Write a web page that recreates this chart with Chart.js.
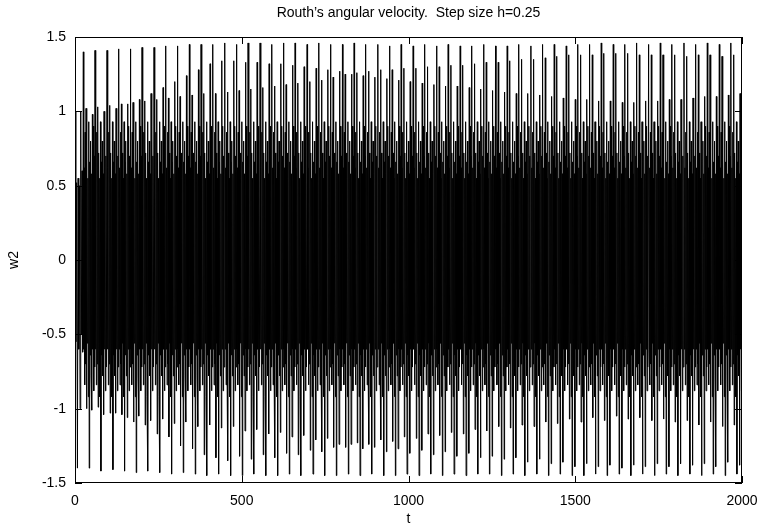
<!DOCTYPE html>
<html>
<head>
<meta charset="utf-8">
<script src="https://cdn.jsdelivr.net/npm/chart.js@4.4.1/dist/chart.umd.min.js"></script>
<style>
  html, body { margin: 0; padding: 0; background: #fff; }
  #chart { display: block; }
</style>
</head>
<body>
<canvas id="chart" width="759" height="529"></canvas>
<script>
// start of the run, before the first big upward spike
const leadT = [0, 2.4, 4.9, 7.3, 9.3, 11.3, 13.2, 15.2, 17.2, 19.1, 21.1, 23.0];
const leadW = [1.0, -0.55, 0.52, -1.40, 0.55, -0.6, 0.5, -1.0, 1.0, -0.5, 0.6, -0.62];

// time of every big upward spike (one per beat cycle)
const peakT = [25, 60, 96, 131, 166, 201, 237, 272, 307, 343, 378, 413, 449, 484, 519, 555,
    590, 625, 660, 696, 731, 766, 802, 837, 872, 908, 943, 978, 1014, 1049, 1084, 1119,
    1155, 1190, 1225, 1261, 1296, 1331, 1367, 1402, 1437, 1473, 1508, 1543, 1578, 1614,
    1649, 1684, 1720, 1755, 1790, 1826, 1861, 1896, 1932, 1967];

// time offsets of the samples inside one cycle
const subT = [0, 1.36, 2.72, 4.07, 5.43, 6.79, 8.15, 9.5, 10.86, 12.22, 13.58, 14.93, 16.29,
    17.65, 19.0, 20.37, 21.72, 23.08, 24.44, 25.8, 27.15, 28.51, 29.87, 31.23, 32.58, 33.94];

const topPeak = [1.40, 1.41, 1.41, 1.42, 1.42, 1.43, 1.43, 1.44, 1.44, 1.45, 1.45, 1.45, 1.46, 1.45, 1.46,
    1.46, 1.45, 1.46, 1.46, 1.45, 1.46, 1.45, 1.45, 1.46, 1.45, 1.45, 1.44, 1.45, 1.44, 1.45,
    1.44, 1.45, 1.44, 1.44, 1.45, 1.44, 1.44, 1.45, 1.44, 1.45, 1.45, 1.44, 1.45, 1.45, 1.46,
    1.45, 1.45, 1.46, 1.45, 1.46, 1.45, 1.46, 1.45, 1.46, 1.45, 1.46];
const bottomPeak = [-1.40, -1.42, -1.41, -1.42, -1.43, -1.42, -1.43, -1.44, -1.43, -1.44, -1.45, -1.44,
    -1.45, -1.45, -1.44, -1.45, -1.45, -1.44, -1.45, -1.44, -1.45, -1.45, -1.44, -1.45, -1.44,
    -1.45, -1.45, -1.44, -1.45, -1.44, -1.45, -1.44, -1.45, -1.44, -1.44, -1.45, -1.44, -1.45,
    -1.44, -1.45, -1.44, -1.45, -1.45, -1.44, -1.45, -1.44, -1.45, -1.44, -1.45, -1.44, -1.45,
    -1.44, -1.45, -1.44, -1.45, -1.44];
const preTop = [0.98, 1.00, 1.02, 1.05, 1.08, 1.12, 1.16, 1.20, 1.24, 1.28, 1.32, 1.34, 1.34, 1.33,
    1.33, 1.32, 1.32, 1.31, 1.30, 1.29, 1.28, 1.27, 1.25, 1.24, 1.23, 1.22, 1.21, 1.20, 1.19,
    1.18, 1.17, 1.17, 1.16, 1.15, 1.14, 1.13, 1.12, 1.12, 1.11, 1.10, 1.09, 1.08, 1.08, 1.07,
    1.07, 1.06, 1.06, 1.07, 1.07, 1.08, 1.08, 1.09, 1.10, 1.10, 1.11, 1.12];
const postTop = [1.02, 1.03, 1.04, 1.05, 1.06, 1.07, 1.08, 1.09, 1.10, 1.11, 1.12, 1.12, 1.13, 1.14,
    1.15, 1.16, 1.17, 1.18, 1.19, 1.20, 1.21, 1.23, 1.25, 1.26, 1.27, 1.28, 1.28, 1.29, 1.29,
    1.30, 1.30, 1.31, 1.31, 1.32, 1.33, 1.33, 1.34, 1.35, 1.35, 1.36, 1.37, 1.38, 1.38, 1.38,
    1.39, 1.39, 1.39, 1.38, 1.38, 1.38, 1.38, 1.37, 1.38, 1.38, 1.37, 1.38];
const preBottom = [-1.00, -0.99, -1.03, -1.04, -1.09, -1.11, -1.17, -1.19, -1.25, -1.27, -1.31, -1.33,
    -1.35, -1.32, -1.34, -1.31, -1.33, -1.30, -1.31, -1.28, -1.29, -1.26, -1.26, -1.23, -1.24,
    -1.21, -1.22, -1.19, -1.20, -1.17, -1.18, -1.16, -1.17, -1.14, -1.15, -1.12, -1.13, -1.11,
    -1.12, -1.09, -1.10, -1.07, -1.09, -1.06, -1.08, -1.05, -1.07, -1.06, -1.08, -1.07, -1.09,
    -1.08, -1.11, -1.09, -1.12, -1.11];
const postBottom = [-1.01, -1.04, -1.03, -1.06, -1.05, -1.08, -1.07, -1.10, -1.09, -1.12, -1.11, -1.13,
    -1.12, -1.15, -1.14, -1.17, -1.16, -1.19, -1.18, -1.21, -1.20, -1.24, -1.24, -1.27, -1.26,
    -1.29, -1.27, -1.30, -1.28, -1.31, -1.29, -1.32, -1.30, -1.33, -1.32, -1.34, -1.33, -1.36,
    -1.34, -1.37, -1.36, -1.39, -1.37, -1.39, -1.38, -1.40, -1.38, -1.39, -1.37, -1.39, -1.37,
    -1.38, -1.37, -1.39, -1.36, -1.38];

// fast oscillation inside the band
const innerUp = [0.62, 0.86, 0.72, 0.55, 0.93, 0.66, 0.80, 0.58, 0.90, 0.70];
const innerDown = [-0.60, -0.84, -0.70, -0.56, -0.92, -0.64, -0.78, -0.60, -0.88, -0.72];

const yTicks = [-1.5, -1, -0.5, 0, 0.5, 1, 1.5];
const xTicks = [0, 500, 1000, 1500, 2000];

const points = [];
leadT.forEach((t, i) => points.push({ x: t, y: leadW[i] }));
peakT.forEach((t0, i) => {
    const vals = [
        topPeak[i], innerDown[0], innerUp[0], innerDown[1], innerUp[1], innerDown[2],
        postTop[i], preBottom[i], innerUp[2], innerDown[3], innerUp[3], innerDown[4], innerUp[4],
        bottomPeak[i], innerUp[5], innerDown[5], innerUp[6], innerDown[6], innerUp[7],
        postBottom[i], preTop[i], innerDown[7], innerUp[8], innerDown[8], innerUp[9], innerDown[9]
    ];
    vals.forEach((v, k) => points.push({ x: t0 + subT[k], y: v }));
});

const font = { family: "'Liberation Sans', Arial, Helvetica, sans-serif", size: 14 };

// gnuplot style box with inward tick marks
const frame = {
    id: 'frame',
    afterDatasetsDraw(chart) {
        const { ctx, chartArea: a, scales: { x, y } } = chart;
        ctx.save();
        ctx.strokeStyle = '#000';
        ctx.lineWidth = 1;
        ctx.strokeRect(a.left + 0.5, a.top + 0.5, a.right - a.left - 1, a.bottom - a.top - 1);
        ctx.beginPath();
        xTicks.forEach(v => {
            const px = Math.round(x.getPixelForValue(v)) + 0.5;
            ctx.moveTo(px, a.bottom); ctx.lineTo(px, a.bottom - 7);
            ctx.moveTo(px, a.top); ctx.lineTo(px, a.top + 7);
        });
        yTicks.forEach(v => {
            const py = Math.round(y.getPixelForValue(v)) + 0.5;
            ctx.moveTo(a.left, py); ctx.lineTo(a.left + 7, py);
            ctx.moveTo(a.right, py); ctx.lineTo(a.right - 7, py);
        });
        ctx.stroke();
        ctx.restore();
    }
};

new Chart(document.getElementById('chart').getContext('2d'), {
    type: 'line',
    data: {
        datasets: [{
            data: points,
            borderColor: '#000',
            borderWidth: 1,
            pointRadius: 0,
            tension: 0,
            fill: false
        }]
    },
    options: {
        responsive: false,
        animation: false,
        devicePixelRatio: 1,
        layout: { padding: { left: 0, right: 17, top: 0, bottom: 0 } },
        plugins: {
            legend: { display: false },
            tooltip: { enabled: false },
            title: {
                display: true,
                text: 'Routh\u2019s angular velocity.  Step size h=0.25',
                color: '#000',
                font: { ...font, weight: 'normal' },
                padding: { top: 5, bottom: 15.2 },
                fullSize: false
            }
        },
        scales: {
            x: {
                type: 'linear',
                min: 0,
                max: 2000,
                afterBuildTicks: s => { s.ticks = xTicks.map(v => ({ value: v })); },
                ticks: { color: '#000', font, padding: 10, maxRotation: 0, callback: v => String(v) },
                grid: { display: false, drawTicks: false },
                border: { display: false },
                title: { display: true, text: 't', color: '#000', font, padding: { top: 0, bottom: 1 } },
                afterFit: s => { s.height = 46; s.paddingLeft = 0; s.paddingRight = 0; }
            },
            y: {
                min: -1.5,
                max: 1.5,
                afterBuildTicks: s => { s.ticks = yTicks.map(v => ({ value: v })); },
                ticks: { color: '#000', font, padding: 9, callback: v => String(v) },
                grid: { display: false, drawTicks: false },
                border: { display: false },
                title: { display: true, text: 'w2', color: '#000', font, padding: { top: 5.6, bottom: 0 } },
                afterFit: s => { s.width = 75; s.paddingTop = 0; s.paddingBottom = 0; }
            }
        }
    },
    plugins: [frame]
});
</script>
</body>
</html>
